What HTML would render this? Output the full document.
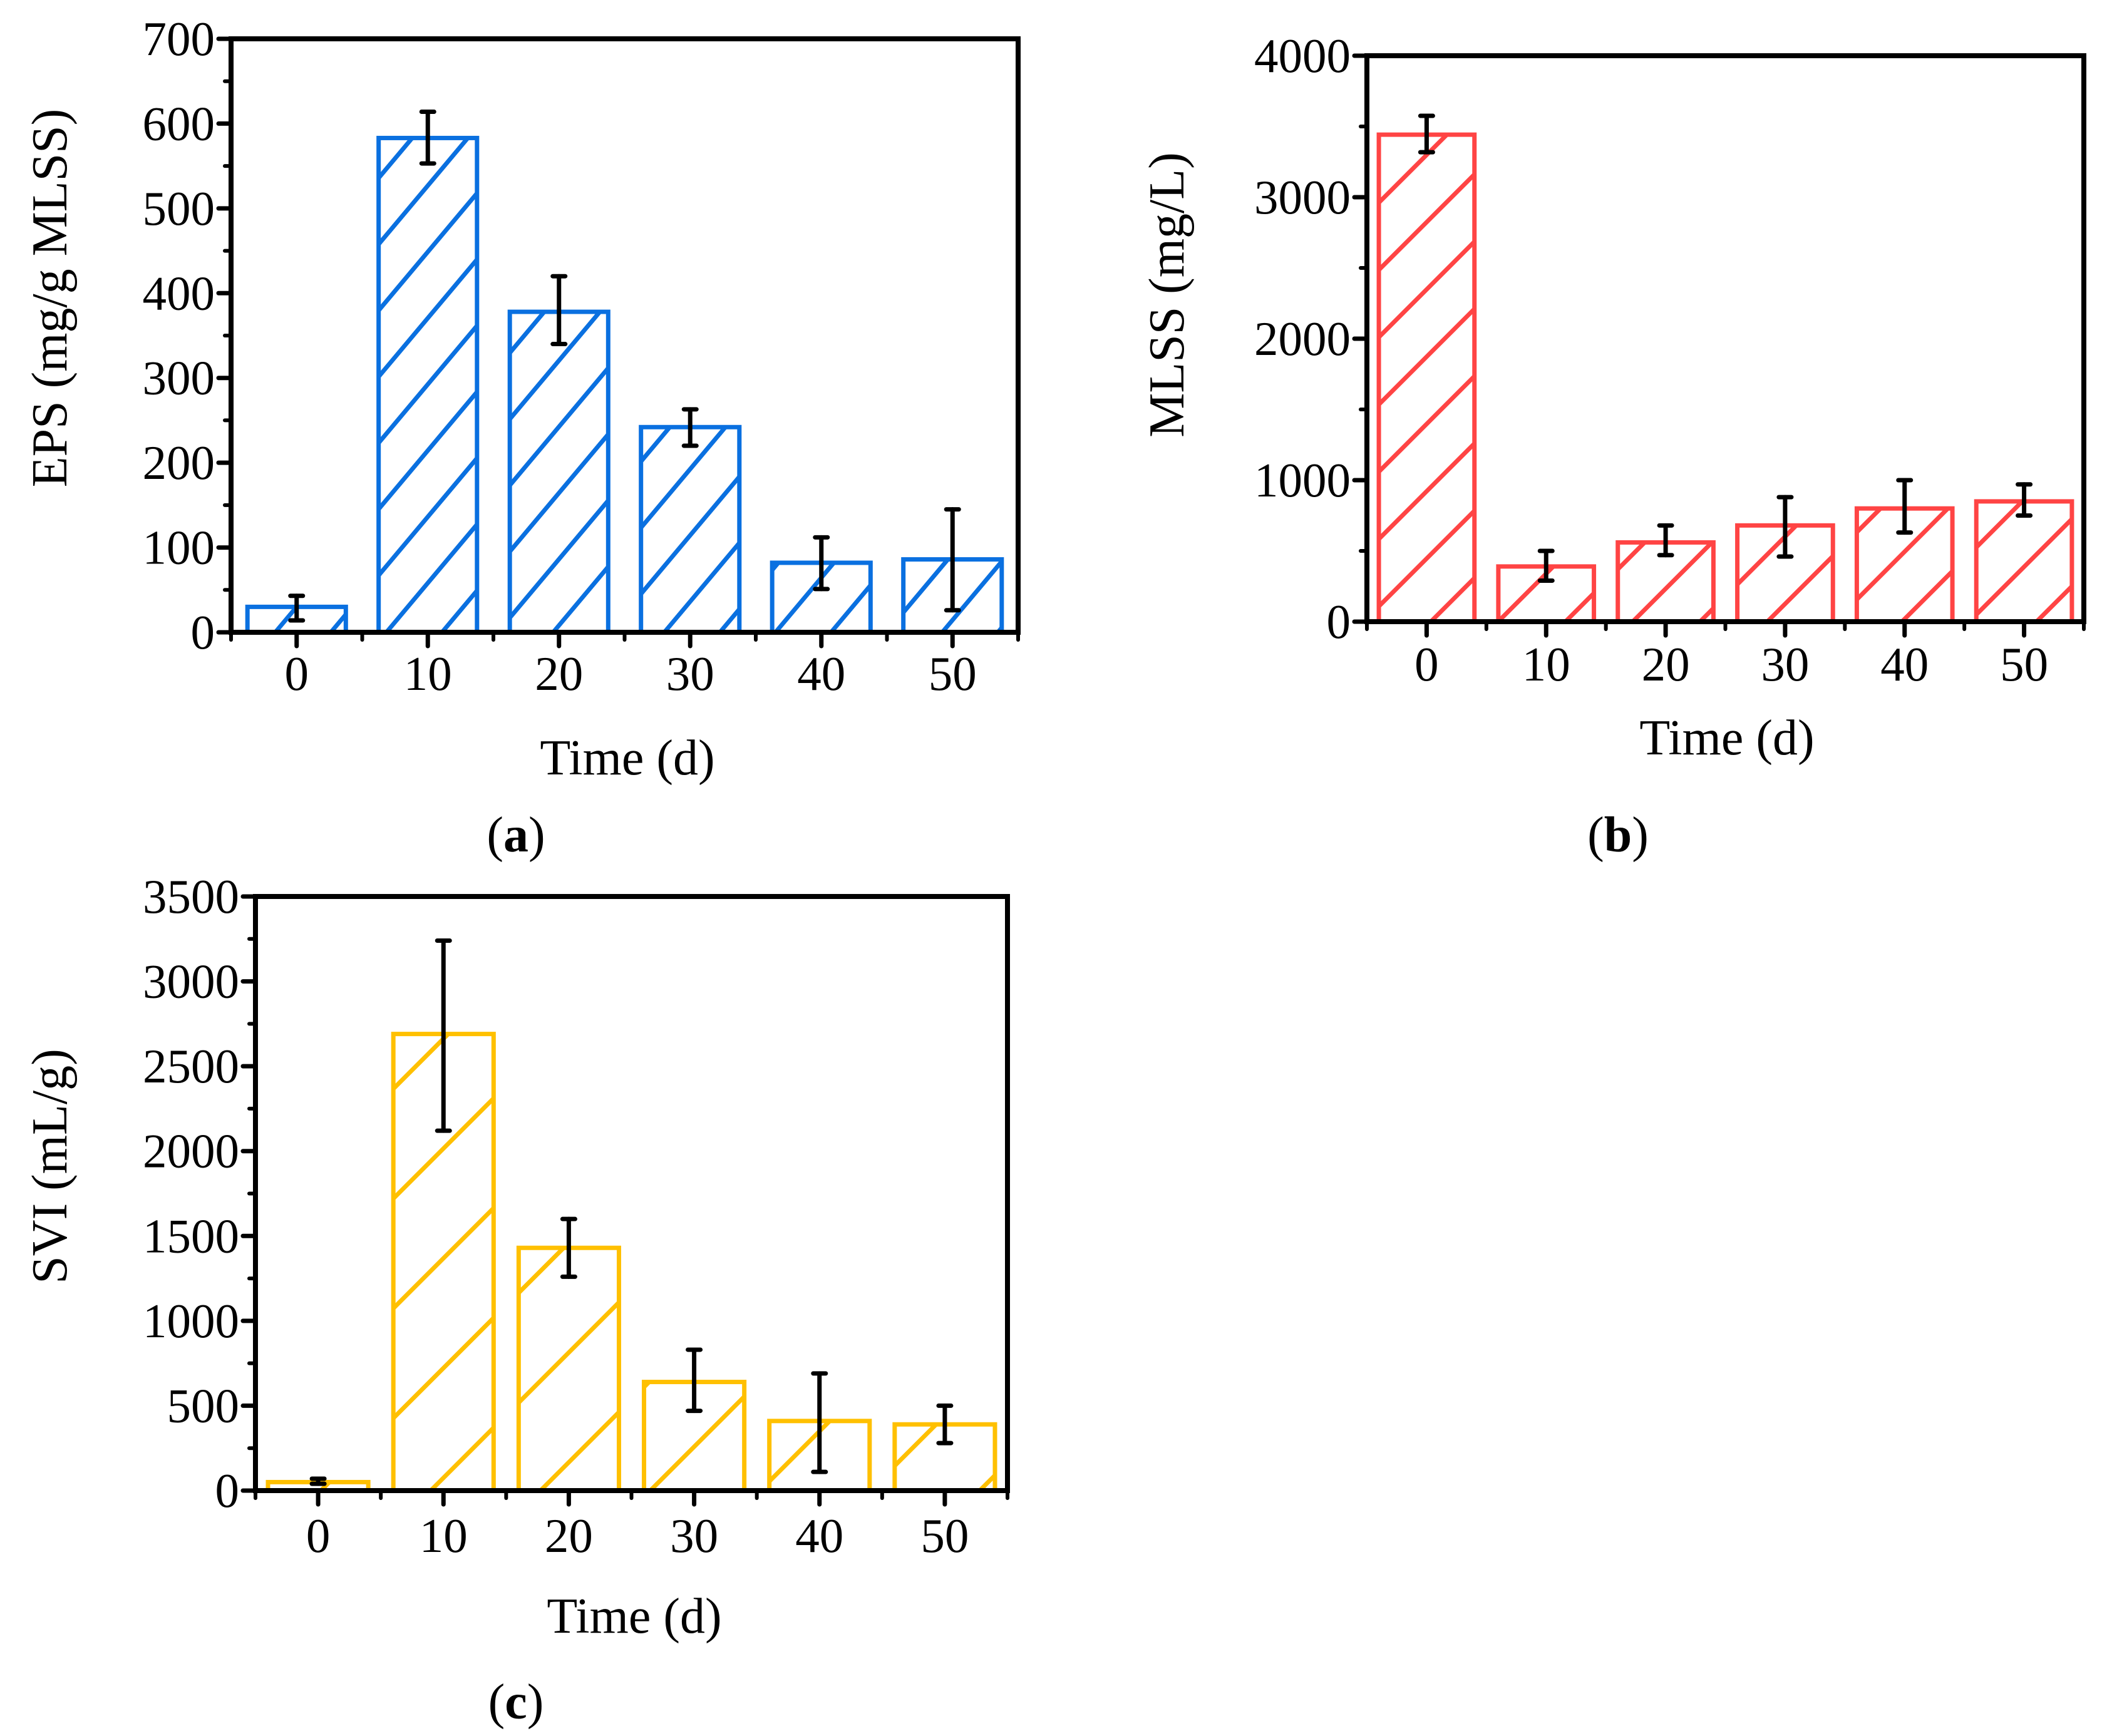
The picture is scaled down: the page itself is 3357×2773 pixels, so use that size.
<!DOCTYPE html>
<html><head><meta charset="utf-8"><style>
html,body{margin:0;padding:0;background:#fff;}
svg{display:block;font-family:"Liberation Serif",serif;}
</style></head><body>
<svg id="fig" width="3357" height="2773" viewBox="0 0 3357 2773" xmlns="http://www.w3.org/2000/svg">
<defs>
<pattern id="hatchA" patternUnits="userSpaceOnUse" width="68" height="20" patternTransform="rotate(40)"><line x1="34" y1="-5" x2="34" y2="25" stroke="#0a70e0" stroke-width="7"/></pattern>
<pattern id="hatchB" patternUnits="userSpaceOnUse" width="76" height="20" patternTransform="rotate(45)"><line x1="38" y1="-5" x2="38" y2="25" stroke="#ff4444" stroke-width="7"/></pattern>
<pattern id="hatchC" patternUnits="userSpaceOnUse" width="124" height="20" patternTransform="rotate(45)"><line x1="62" y1="-5" x2="62" y2="25" stroke="#ffc000" stroke-width="7"/></pattern>
</defs>
</svg>
<script>
const categories = ["0","10","20","30","40","50"];
const epsValues = [30, 583, 378, 242, 82, 86];
const epsLow = [14, 553, 340, 220, 51, 26];
const epsHigh = [43, 614, 420, 263, 112, 145];
const epsTicks = [0,100,200,300,400,500,600,700];
const mlssValues = [3442, 390, 560, 680, 800, 850];
const mlssLow = [3318, 290, 470, 460, 630, 750];
const mlssHigh = [3575, 500, 680, 880, 1000, 970];
const mlssTicks = [0,1000,2000,3000,4000];
const sviValues = [50, 2690, 1430, 640, 410, 390];
const sviLow = [40, 2120, 1260, 470, 110, 280];
const sviHigh = [70, 3240, 1600, 830, 690, 500];
const sviTicks = [0,500,1000,1500,2000,2500,3000,3500];

const NS = "http://www.w3.org/2000/svg";
const svg = document.getElementById('fig');
function mk(tag, attrs, parent){
  const e = document.createElementNS(NS, tag);
  for (const k in attrs) e.setAttribute(k, attrs[k]);
  (parent||svg).appendChild(e);
  return e;
}
function panel(cfg){
  const g = mk('g', {});
  
  
  const L=cfg.L, R=cfg.R, T=cfg.T, B=cfg.B;
  const ymax = cfg.ticks[cfg.ticks.length-1];
  const y = v => B - v/ymax*(B-T);
  const band = (R-L)/categories.length;
  const xc = i => L + band*(i+0.5);
  const bw = band*cfg.bwFrac;
  cfg.values.forEach((v,i)=>{
    const r = mk('rect', {x:xc(i)-bw/2, y:y(v), width:bw, height:B-y(v), fill:'url(#'+cfg.pat+')', stroke:cfg.color, 'stroke-width':7}, g);
    
    
  });
  cfg.values.forEach((v,i)=>{
    const eg = mk('g', {stroke:'#000','stroke-width':7,'stroke-linecap':'round'}, g);
    
    
    const x = xc(i);
    mk('line',{x1:x,x2:x,y1:y(cfg.low[i]),y2:y(cfg.high[i])},eg);
    mk('line',{x1:x-10,x2:x+10,y1:y(cfg.low[i]),y2:y(cfg.low[i])},eg);
    mk('line',{x1:x-10,x2:x+10,y1:y(cfg.high[i]),y2:y(cfg.high[i])},eg);
  });
  const fr = mk('rect',{x:L,y:T,width:R-L,height:B-T,fill:'none',stroke:'#000','stroke-width':8},g);
  
  
  const step = cfg.ticks[1]-cfg.ticks[0];
  cfg.ticks.forEach((t,k)=>{
    mk('line',{x1:L-20,x2:L,y1:y(t),y2:y(t),stroke:'#000','stroke-width':7,'stroke-linecap':'round'},g);
    if (k<cfg.ticks.length-1) mk('line',{x1:L-10,x2:L,y1:y(t+step/2),y2:y(t+step/2),stroke:'#000','stroke-width':6,'stroke-linecap':'round'},g);
    const tx = mk('text',{x:L-26,y:y(t)+26,'font-size':77,'text-anchor':'end',fill:'#000'},g);
    tx.textContent = t;
    
    
  });
  categories.forEach((c,i)=>{
    mk('line',{x1:xc(i),x2:xc(i),y1:B,y2:B+22,stroke:'#000','stroke-width':7,'stroke-linecap':'round'},g);
    mk('line',{x1:L+band*i,x2:L+band*i,y1:B,y2:B+12,stroke:'#000','stroke-width':6,'stroke-linecap':'round'},g);
    const tx = mk('text',{x:xc(i),y:cfg.xlabY,'font-size':77,'text-anchor':'middle',fill:'#000'},g);
    tx.textContent = c;
    
    
  });
  mk('line',{x1:R,x2:R,y1:B,y2:B+12,stroke:'#000','stroke-width':6,'stroke-linecap':'round'},g);
  const xt = mk('text',{x:cfg.xtX,y:cfg.xtY,'font-size':80,'text-anchor':'middle',fill:'#000'},g);
  xt.textContent = 'Time (d)';
  
  
  const yt = mk('text',{x:0,y:0,'font-size':80,'text-anchor':'middle',fill:'#000',transform:'translate('+cfg.ytX+','+cfg.ytY+') rotate(-90)'},g);
  yt.textContent = cfg.ytitle;
  
  
  const pl = mk('text',{x:cfg.plX,y:cfg.plY,'font-size':80,'text-anchor':'middle',fill:'#000'},g);
  pl.innerHTML = '(<tspan font-weight="bold">'+cfg.letter+'</tspan>)';
  
  
}
panel({name:'panel-a-eps',L:369,R:1626,T:62,B:1010,ticks:epsTicks,values:epsValues,low:epsLow,high:epsHigh,color:'#0a70e0',pat:'hatchA',bwFrac:0.75,
  xlabY:1102,xtX:1002,xtY:1237,ytX:106,ytY:476,ytitle:'EPS (mg/g MLSS)',plX:824,plY:1360,letter:'a'});
panel({name:'panel-b-mlss',L:2183,R:3328,T:89,B:993,ticks:mlssTicks,values:mlssValues,low:mlssLow,high:mlssHigh,color:'#ff4444',pat:'hatchB',bwFrac:0.8,
  xlabY:1087,xtX:2758,xtY:1205,ytX:1890,ytY:471,ytitle:'MLSS (mg/L)',plX:2584,plY:1360,letter:'b'});
panel({name:'panel-c-svi',L:408,R:1609,T:1432,B:2381,ticks:sviTicks,values:sviValues,low:sviLow,high:sviHigh,color:'#ffc000',pat:'hatchC',bwFrac:0.8,
  xlabY:2479,xtX:1013,xtY:2608,ytX:106,ytY:1863,ytitle:'SVI (mL/g)',plX:824,plY:2745,letter:'c'});
</script>
</body></html>
